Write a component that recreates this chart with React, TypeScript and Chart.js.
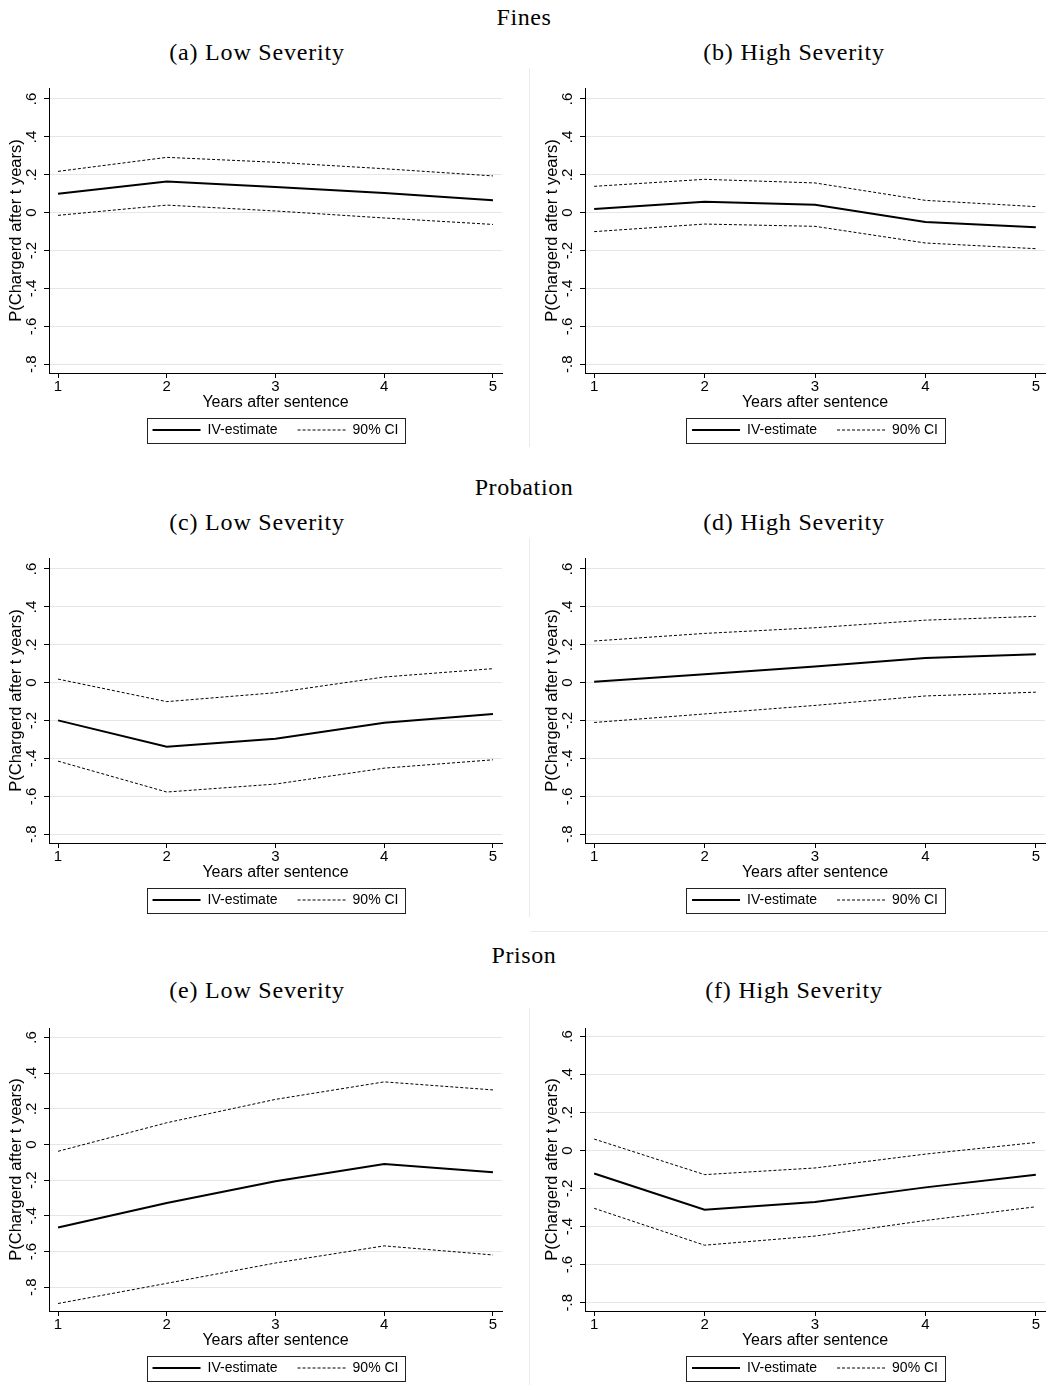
import React, { useEffect, useRef } from 'react';
import { Chart, registerables } from 'chart.js';

Chart.register(...registerables);

// ---------- data ----------
const YEARS = [1, 2, 3, 4, 5];
const Y_TICKS = [-0.8, -0.6, -0.4, -0.2, 0, 0.2, 0.4, 0.6];
const LEGEND_LABELS = ['IV-estimate', '90% CI'];
const X_TITLE = 'Years after sentence';
const Y_TITLE = 'P(Chargerd after t years)';
const ROW_TITLES = ['Fines', 'Probation', 'Prison'];
const PANEL_TITLES = ['(a) Low Severity', '(b) High Severity', '(c) Low Severity', '(d) High Severity', '(e) Low Severity', '(f) High Severity'];

const FINES_LOW_EST = [0.100, 0.165, 0.136, 0.104, 0.065];
const FINES_LOW_UP = [0.218, 0.292, 0.266, 0.232, 0.194];
const FINES_LOW_LO = [-0.014, 0.040, 0.009, -0.028, -0.062];

const FINES_HIGH_EST = [0.019, 0.058, 0.042, -0.049, -0.077];
const FINES_HIGH_UP = [0.139, 0.176, 0.157, 0.065, 0.032];
const FINES_HIGH_LO = [-0.100, -0.060, -0.072, -0.160, -0.190];

const PROB_LOW_EST = [-0.199, -0.338, -0.296, -0.211, -0.165];
const PROB_LOW_UP = [0.019, -0.100, -0.053, 0.030, 0.074];
const PROB_LOW_LO = [-0.414, -0.577, -0.535, -0.451, -0.407];

const PROB_HIGH_EST = [0.005, 0.045, 0.085, 0.130, 0.150];
const PROB_HIGH_UP = [0.220, 0.260, 0.290, 0.330, 0.350];
const PROB_HIGH_LO = [-0.210, -0.165, -0.120, -0.070, -0.050];

const PRISON_LOW_EST = [-0.465, -0.328, -0.206, -0.109, -0.156];
const PRISON_LOW_UP = [-0.038, 0.122, 0.253, 0.351, 0.306];
const PRISON_LOW_LO = [-0.891, -0.778, -0.664, -0.568, -0.619];

const PRISON_HIGH_EST = [-0.121, -0.311, -0.271, -0.194, -0.127];
const PRISON_HIGH_UP = [0.060, -0.127, -0.092, -0.019, 0.042];
const PRISON_HIGH_LO = [-0.304, -0.498, -0.450, -0.368, -0.296];

// ---------- layout ----------
const ROWS = [
  { titleY: 17, subY: 52, areaTop: 88, areaH: 285 },
  { titleY: 487, subY: 522, areaTop: 558, areaH: 285 },
  { titleY: 955, subY: 990, areaTop: 1028, areaH: 283 },
];

const PANELS = [
  { est: FINES_LOW_EST, up: FINES_LOW_UP, lo: FINES_LOW_LO, yMin: -0.846, yMax: 0.658, row: 0, col: 0 },
  { est: FINES_HIGH_EST, up: FINES_HIGH_UP, lo: FINES_HIGH_LO, yMin: -0.846, yMax: 0.658, row: 0, col: 1 },
  { est: PROB_LOW_EST, up: PROB_LOW_UP, lo: PROB_LOW_LO, yMin: -0.846, yMax: 0.658, row: 1, col: 0 },
  { est: PROB_HIGH_EST, up: PROB_HIGH_UP, lo: PROB_HIGH_LO, yMin: -0.846, yMax: 0.658, row: 1, col: 1 },
  { est: PRISON_LOW_EST, up: PRISON_LOW_UP, lo: PRISON_LOW_LO, yMin: -0.933, yMax: 0.653, row: 2, col: 0 },
  { est: PRISON_HIGH_EST, up: PRISON_HIGH_UP, lo: PRISON_HIGH_LO, yMin: -0.844, yMax: 0.644, row: 2, col: 1 },
];

const COLS = [
  { left: 0, width: 529, padLeft: 0, padRight: 27, subX: 257 },
  { left: 530, width: 518, padLeft: 6, padRight: 3, subX: 794 },
];

const PAD_TOP = 20;
const X_AXIS_H = 30;
const LEGEND_PAD = 20;
const PAD_BOTTOM = 4;

const SANS = "'Liberation Sans', Arial, sans-serif";
const SERIF = "'Liberation Serif', 'Times New Roman', serif";

const fmtTick = (v: number) => {
  if (Math.abs(v) < 1e-9) return '0';
  return v.toFixed(1).replace('0.', '.');
};

const legendBorder = {
  id: 'legendBorder',
  afterDraw(chart: any) {
    const lg = chart.legend;
    if (!lg || !lg.legendHitBoxes || !lg.legendHitBoxes.length) return;
    const hb = lg.legendHitBoxes;
    const first = hb[0];
    const last = hb[hb.length - 1];
    const x0 = Math.round(first.left - 6) + 0.5;
    const x1 = Math.round(last.left + last.width + 7) + 0.5;
    const y0 = Math.round(first.top - 5.5) + 0.5;
    const ctx = chart.ctx;
    ctx.save();
    ctx.strokeStyle = '#222';
    ctx.lineWidth = 1;
    ctx.setLineDash([]);
    ctx.strokeRect(x0, y0, x1 - x0, 25);
    ctx.restore();
  },
};

function Panel({ p }: { p: typeof PANELS[number] }) {
  const ref = useRef<HTMLCanvasElement>(null);
  const row = ROWS[p.row];
  const col = COLS[p.col];
  const top = row.areaTop - PAD_TOP;
  const height = PAD_TOP + row.areaH + X_AXIS_H + (14 + LEGEND_PAD + 10) + PAD_BOTTOM;

  useEffect(() => {
    if (!ref.current) return;
    const chart = new Chart(ref.current, {
      type: 'line',
      data: {
        labels: YEARS,
        datasets: [
          { label: LEGEND_LABELS[0], data: YEARS.map((x, i) => ({ x, y: p.est[i] })), borderColor: '#000', borderWidth: 2, pointRadius: 0, tension: 0, fill: false },
          { label: LEGEND_LABELS[1], data: YEARS.map((x, i) => ({ x, y: p.up[i] })), borderColor: '#000', borderWidth: 1, borderDash: [3, 2], pointRadius: 0, tension: 0, fill: false },
          { label: LEGEND_LABELS[1], data: YEARS.map((x, i) => ({ x, y: p.lo[i] })), borderColor: '#000', borderWidth: 1, borderDash: [3, 2], pointRadius: 0, tension: 0, fill: false },
        ],
      },
      options: {
        animation: false,
        responsive: false,
        maintainAspectRatio: false,
        devicePixelRatio: 1,
        layout: { padding: { left: col.padLeft, right: col.padRight, top: PAD_TOP, bottom: PAD_BOTTOM } },
        plugins: {
          tooltip: { enabled: false },
          title: { display: false },
          legend: {
            display: true,
            position: 'bottom',
            fullSize: false,
            labels: {
              usePointStyle: true,
              pointStyle: 'line',
              pointStyleWidth: 48,
              padding: LEGEND_PAD,
              color: '#000',
              font: { family: SANS, size: 14 },
              generateLabels: () =>
                LEGEND_LABELS.map((text, i) => ({
                  text,
                  datasetIndex: i,
                  strokeStyle: '#000',
                  fillStyle: '#000',
                  fontColor: '#000',
                  lineWidth: i === 0 ? 2 : 1,
                  lineDash: i === 0 ? [] : [3, 2],
                  pointStyle: 'line',
                  hidden: false,
                })),
            },
          },
        },
        scales: {
          x: {
            type: 'linear',
            min: 0.917,
            max: 5.083,
            afterBuildTicks: (s: any) => { s.ticks = YEARS.map((v) => ({ value: v })); },
            afterFit: (s: any) => { s.height = X_AXIS_H; },
            grid: { drawOnChartArea: false, drawTicks: true, tickLength: 5, tickColor: '#000', color: '#000' },
            border: { display: true, color: '#000', width: 1 },
            ticks: { color: '#000', padding: 1.5, maxRotation: 0, minRotation: 0, font: { family: SANS, size: 15, lineHeight: 1 }, callback: (v: any) => String(v) },
            title: { display: true, text: X_TITLE, color: '#000', font: { family: SANS, size: 16, lineHeight: 1 }, padding: { top: 0, bottom: -8 } },
          },
          y: {
            type: 'linear',
            min: p.yMin,
            max: p.yMax,
            afterBuildTicks: (s: any) => { s.ticks = Y_TICKS.map((v) => ({ value: v })); },
            afterFit: (s: any) => { s.width = 49; },
            grid: { drawOnChartArea: true, drawTicks: true, tickLength: 5, tickColor: '#000', color: '#e6e6e6', lineWidth: 1 },
            border: { display: true, color: '#000', width: 1 },
            ticks: { color: '#000', padding: 3, minRotation: 90, maxRotation: 90, crossAlign: 'center', font: { family: SANS, size: 15, lineHeight: 1 }, callback: (v: any) => fmtTick(Number(v)) },
            title: { display: true, text: Y_TITLE, color: '#000', font: { family: SANS, size: 16.5, lineHeight: 1.2 }, padding: { top: 7, bottom: 0 } },
          },
        },
      },
      plugins: [legendBorder],
    } as any);
    return () => chart.destroy();
  }, []);

  return (
    <canvas
      ref={ref}
      width={col.width}
      height={height}
      style={{ position: 'absolute', left: col.left, top, width: col.width, height }}
    />
  );
}

export default function App() {
  return (
    <div style={{ position: 'absolute', left: 0, top: 0, width: 1048, height: 1395, background: '#fff', overflow: 'hidden' }}>
      {ROWS.map((r, i) => (
        <React.Fragment key={'row' + i}>
          <div style={{ position: 'absolute', left: 0, top: r.titleY - 15, width: 1048, lineHeight: '30px', fontSize: 24, fontFamily: SERIF, textAlign: 'center', color: '#000', letterSpacing: '0.6px' }}>
            {ROW_TITLES[i]}
          </div>
          {COLS.map((c, j) => (
            <div key={'sub' + j} style={{ position: 'absolute', left: c.subX - 200, top: r.subY - 15, width: 400, lineHeight: '30px', fontSize: 24, fontFamily: SERIF, textAlign: 'center', color: '#000', letterSpacing: '0.8px' }}>
              {PANEL_TITLES[i * 2 + j]}
            </div>
          ))}
          <div style={{ position: 'absolute', left: 529, top: r.areaTop - 20, width: 1, height: r.areaH + 94, background: '#ebebeb' }} />
        </React.Fragment>
      ))}
      <div style={{ position: 'absolute', left: 530, top: 931, width: 518, height: 1, background: '#ebebeb' }} />
      {PANELS.map((p, k) => (
        <Panel key={k} p={p} />
      ))}
    </div>
  );
}
